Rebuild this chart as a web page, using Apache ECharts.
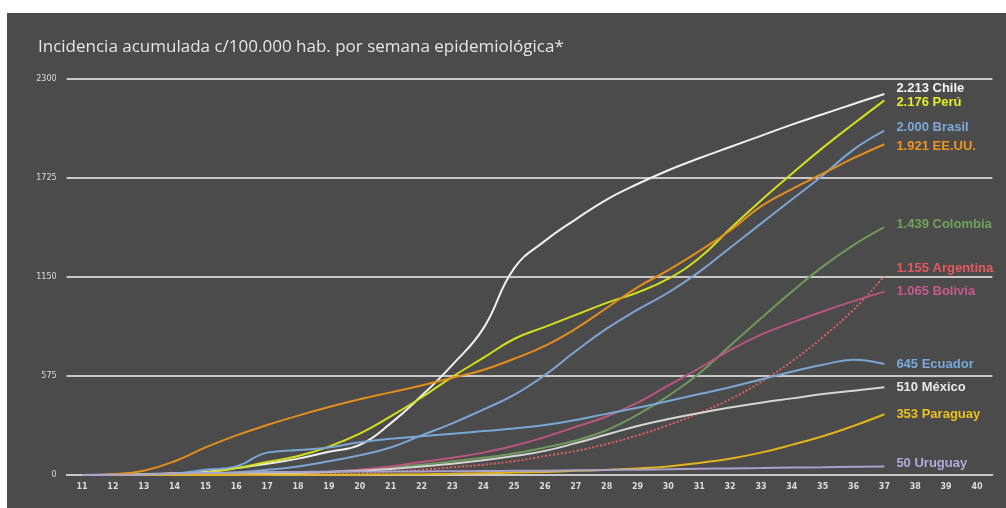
<!DOCTYPE html>
<html>
<head>
<meta charset="utf-8">
<script src="https://cdn.jsdelivr.net/npm/echarts@6/dist/echarts.min.js"></script>
<style>
  html, body { margin: 0; padding: 0; background: #ffffff; }
  #chart { position: absolute; left: 7px; top: 13px; width: 999px; height: 495px; background: #4b4b4b; }
</style>
</head>
<body>
<div id="chart"></div>
<script>
// semanas epidemiológicas 11..40
var weeks = [];
for (var w = 11; w <= 40; w++) weeks.push(String(w));

var yTicks = [0, 575, 1150, 1725, 2300];

// incidencia acumulada, semanas 11..37
var chile     = [0, 2, 5, 10, 18, 40, 65, 95, 135, 175, 300, 460, 640, 850, 1200, 1360, 1485, 1600, 1690, 1770, 1840, 1905, 1970, 2035, 2095, 2155, 2213];
var peru      = [0, 1, 3, 8, 15, 40, 75, 110, 165, 240, 340, 450, 570, 680, 790, 860, 930, 1000, 1060, 1140, 1260, 1430, 1595, 1750, 1900, 2040, 2176];
var brasil    = [0, 0, 1, 3, 8, 15, 30, 50, 80, 115, 160, 230, 300, 380, 465, 580, 720, 850, 960, 1060, 1180, 1320, 1460, 1600, 1740, 1890, 2000];
var eeuu      = [0, 5, 25, 80, 160, 230, 290, 345, 395, 440, 480, 520, 565, 610, 675, 750, 850, 970, 1090, 1190, 1300, 1420, 1560, 1660, 1750, 1840, 1921];
var colombia  = [0, 0, 0, 1, 2, 4, 7, 12, 20, 30, 45, 60, 80, 100, 125, 160, 200, 260, 350, 460, 590, 750, 910, 1065, 1210, 1335, 1439];
var argentina = [0, 0, 0, 0, 1, 1, 2, 3, 5, 10, 20, 30, 45, 60, 80, 110, 140, 180, 230, 290, 360, 440, 540, 660, 800, 960, 1155];
var bolivia   = [0, 0, 0, 0, 1, 2, 5, 10, 18, 30, 50, 75, 100, 130, 170, 220, 280, 340, 420, 520, 620, 725, 815, 885, 950, 1010, 1065];
var ecuador   = [0, 0, 2, 8, 30, 50, 130, 145, 160, 190, 210, 225, 240, 255, 270, 290, 320, 355, 390, 430, 470, 510, 555, 600, 640, 670, 645];
var mexico    = [0, 0, 0, 1, 2, 4, 7, 12, 18, 25, 35, 50, 65, 85, 110, 140, 185, 235, 285, 325, 360, 392, 420, 445, 470, 490, 510];
var paraguay  = [0, 0, 0, 0, 0, 1, 1, 1, 2, 2, 3, 5, 7, 10, 14, 18, 24, 30, 38, 50, 70, 95, 130, 175, 225, 285, 353];
var uruguay   = [0, 1, 3, 8, 12, 15, 17, 18, 19, 20, 20, 21, 22, 23, 24, 25, 27, 29, 31, 33, 36, 38, 40, 43, 45, 48, 50];

var countries = [
  { name: 'Chile',     data: chile,     line: '#f0f0f0', text: '#f4f4f4', dy: -6 },
  { name: 'Perú',      data: peru,      line: '#d4e01c', text: '#e3ec25', dy: 2 },
  { name: 'Brasil',    data: brasil,    line: '#7fa5d4', text: '#7ea8da', dy: -3 },
  { name: 'EE.UU.',    data: eeuu,      line: '#e48f1c', text: '#ee9422', dy: 2 },
  { name: 'Colombia',  data: colombia,  line: '#6f9a5b', text: '#72a35c', dy: -3 },
  { name: 'Argentina', data: argentina, line: '#d8645e', text: '#e45a5e', dy: -8, dotted: true },
  { name: 'Bolivia',   data: bolivia,   line: '#b9567f', text: '#c65b8c', dy: 0 },
  { name: 'Ecuador',   data: ecuador,   line: '#7ba7d3', text: '#7aa8dc', dy: 0 },
  { name: 'México',    data: mexico,    line: '#d6d6d6', text: '#e8e8e8', dy: 0 },
  { name: 'Paraguay',  data: paraguay,  line: '#e2b51c', text: '#ecc31e', dy: 0 },
  { name: 'Uruguay',   data: uruguay,   line: '#a9a3cc', text: '#b3abdb', dy: -3 }
];

function miles(n) {
  return String(n).replace(/\B(?=(\d{3})+(?!\d))/g, '.');
}

var series = countries.map(function (c) {
  return {
    name: c.name,
    type: 'line',
    data: c.data,
    smooth: 0.45,
    showSymbol: false,
    symbol: 'none',
    lineStyle: { color: c.line, width: 2, type: c.dotted ? 'dotted' : 'solid' },
    endLabel: {
      show: true,
      distance: 12,
      offset: [0, c.dy],
      color: c.text,
      fontFamily: 'Liberation Sans',
      fontWeight: 'bold',
      fontSize: 13,
      formatter: function (p) { return miles(p.value) + ' ' + c.name; }
    }
  };
});

var myChart = echarts.init(document.getElementById('chart'));
var option = {
  animation: false,
  backgroundColor: '#4b4b4b',
  title: {
    text: 'Incidencia acumulada c/100.000 hab. por semana epidemiológica*',
    left: 26,
    top: 21,
    textStyle: { color: '#e6e6e6', fontFamily: 'Open Sans', fontWeight: 'normal', fontSize: 17 }
  },
  grid: { left: 59.6, right: 13.6, top: 66, bottom: 33 },
  xAxis: {
    type: 'category',
    data: weeks,
    boundaryGap: true,
    axisLine: { show: true, lineStyle: { color: '#c8c8c8', width: 2 } },
    axisTick: { show: false },
    axisLabel: { color: '#dcdcdc', fontSize: 8, fontWeight: 'bold', fontFamily: 'DejaVu Sans', margin: 8 }
  },
  yAxis: {
    type: 'value',
    min: yTicks[0],
    max: yTicks[yTicks.length - 1],
    interval: yTicks[1],
    axisLine: { show: false },
    axisTick: { show: false },
    axisLabel: {
      color: '#dcdcdc', fontSize: 8, fontFamily: 'DejaVu Sans', margin: 10,
      formatter: function (v) { return String(v); }
    },
    splitLine: { lineStyle: { color: '#c8c8c8', width: 2 } }
  },
  series: series
};
option && myChart.setOption(option);
</script>
</body>
</html>
